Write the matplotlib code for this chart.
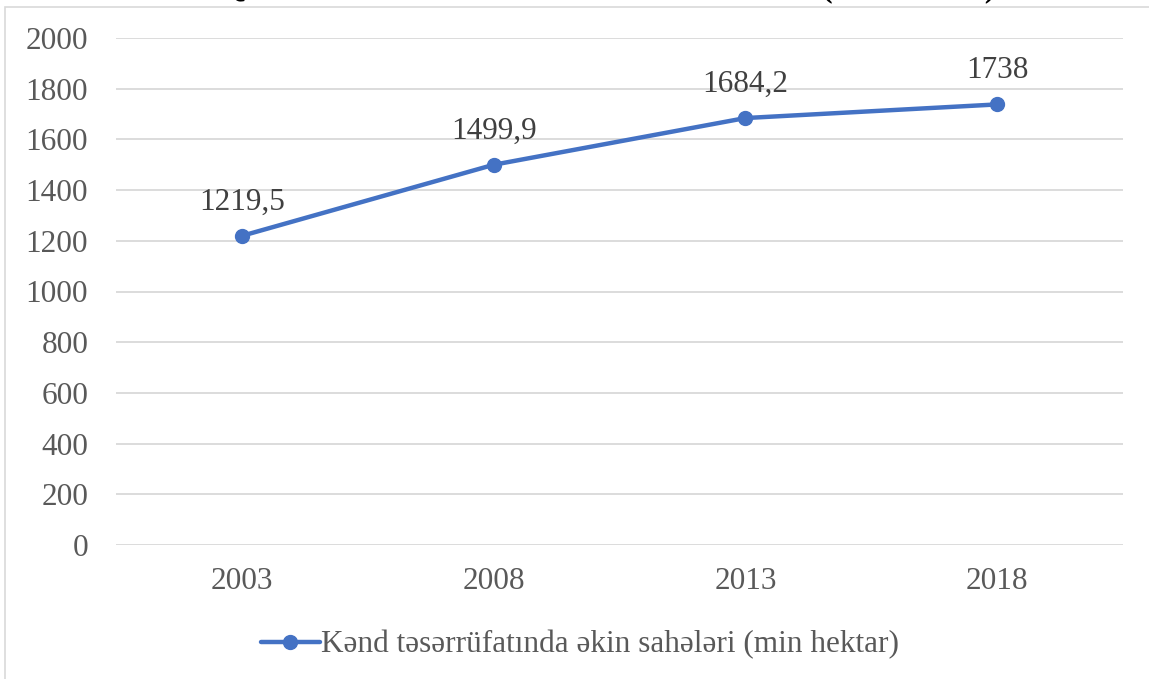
import matplotlib
matplotlib.use("Agg")
import matplotlib.pyplot as plt
from matplotlib.patches import Rectangle

years = ["2003", "2008", "2013", "2018"]
values = [1219.5, 1499.9, 1684.2, 1738]
labels = ["1219,5", "1499,9", "1684,2", "1738"]
series_name = "Kənd təsərrüfatında əkin sahələri (min hektar)"
title = "Qrafik 3. Kənd təsərrüfatında əkin sahələri (min hektar)"

W, H = 1149, 679
plt.rcParams["font.family"] = ["Liberation Serif", "DejaVu Serif"]

fig = plt.figure(figsize=(W / 100, H / 100), dpi=100)
ax = fig.add_axes([116 / W, (H - 545) / H, (1123 - 116) / W, (545 - 38) / H])

# chart frame (only top and left edges fall inside the picture)
fig.patches.append(Rectangle((5 / W, -0.1), 1.2, 1 - 7 / H + 0.1, transform=fig.transFigure,
                             fill=False, edgecolor="#D9D9D9", linewidth=1.2))
# title sits above the crop, only the bottom of its glyphs shows
fig.text(608 / W, 1 + 4 / H, title, ha="center", va="baseline", fontsize=23,
         fontweight="bold", color="black")

x = range(len(years))
ax.plot(x, values, color="#4472C4", linewidth=3.2, marker="o", markersize=10,
        label=series_name, solid_capstyle="round")
for xi, v, lab in zip(x, values, labels):
    ax.annotate(lab, (xi, v), xytext=(0, 14), textcoords="offset points",
                ha="center", va="bottom", fontsize=22.5, color="#404040")

ax.set_xlim(-0.5, 3.5)
ax.set_ylim(0, 2000)
ax.set_yticks(range(0, 2001, 200))
ax.set_xticks(list(x))
ax.set_xticklabels(years)
ax.grid(axis="y", color="#D9D9D9", linewidth=1.3)
ax.set_axisbelow(True)
for s in ax.spines.values():
    s.set_visible(False)
ax.tick_params(length=0, labelsize=22.5, labelcolor="#595959")
ax.tick_params(axis="y", pad=20)
ax.tick_params(axis="x", pad=16)

leg = fig.legend(loc="center", bbox_to_anchor=(580 / W, 1 - 645 / H), frameon=False,
                 fontsize=22.5, handlelength=1.9, handletextpad=0.05, labelcolor="#595959")

fig.savefig("out.png", dpi=100)
